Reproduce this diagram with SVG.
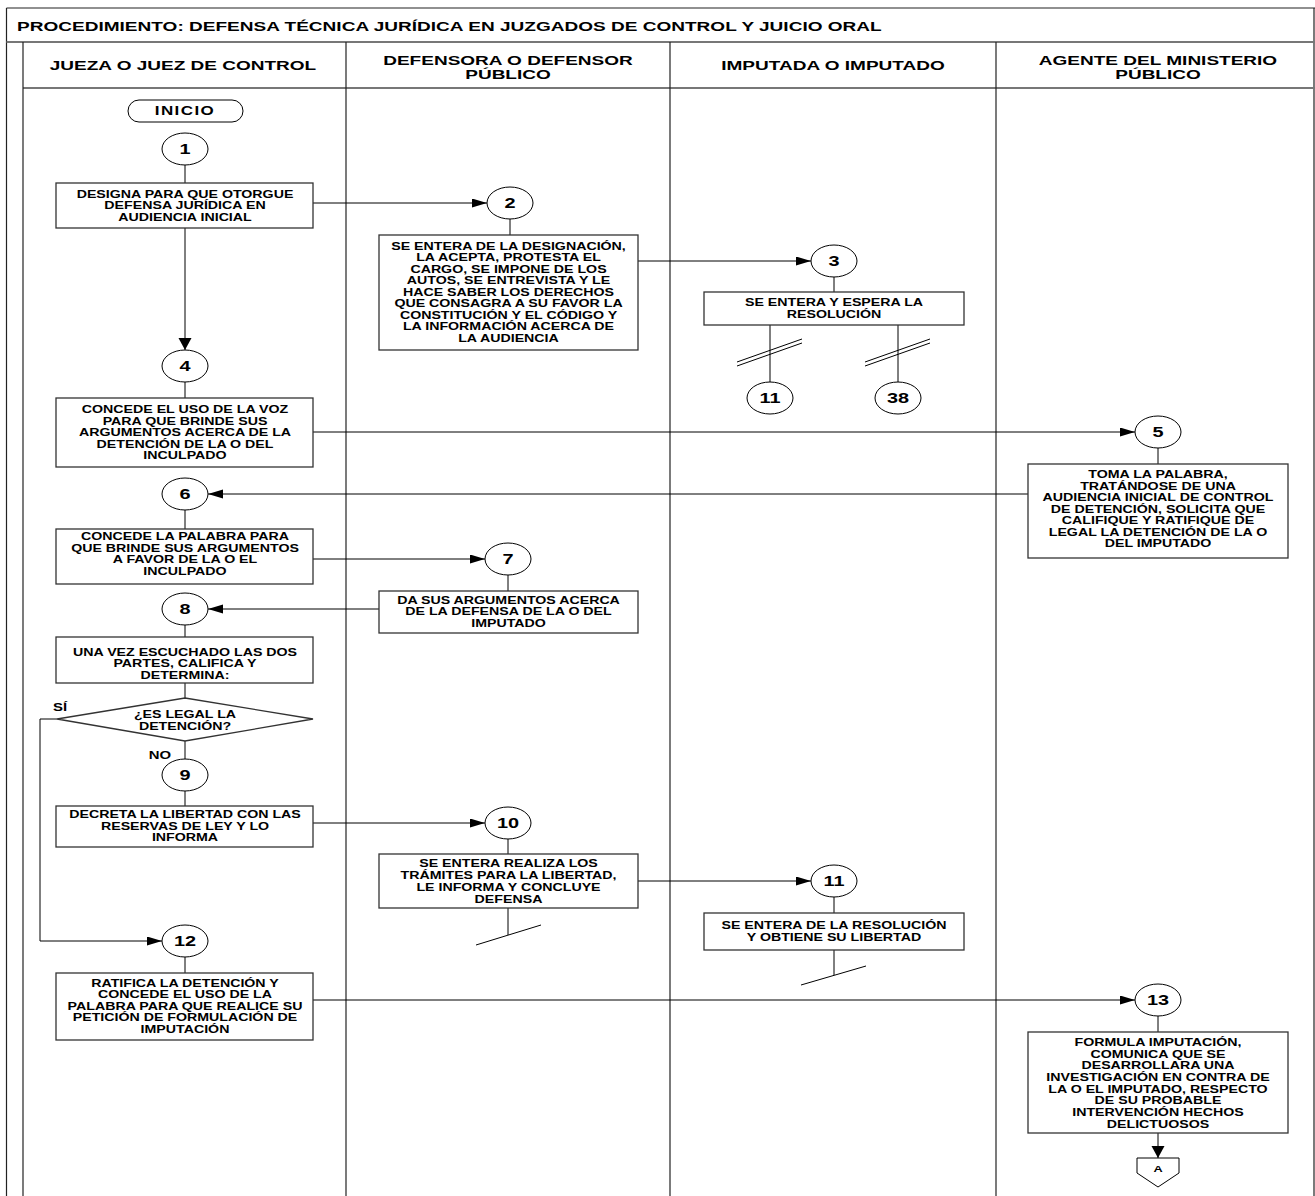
<svg xmlns="http://www.w3.org/2000/svg" width="1315" height="1196" viewBox="0 0 1315 1196">
<style>
.t{font-family:"Liberation Sans",Arial,sans-serif;font-weight:bold;font-size:10px;text-anchor:middle;fill:#000}
.h{font-size:13.4px}
.n{font-size:14px}
.box{fill:#fff;stroke:#333;stroke-width:1.3}
.c{fill:#fff;stroke:#000;stroke-width:1}
.ln{stroke:#000;stroke-width:1;fill:none}
.fr{stroke:#222;stroke-width:1.2;fill:none}
.hl{stroke:#777;stroke-width:2;fill:none}
</style>
<defs>
<marker id="ah" markerUnits="userSpaceOnUse" markerWidth="16" markerHeight="10" refX="15" refY="4.5" orient="auto"><path d="M0,0 L15,4.5 L0,9 z" fill="#000"/></marker>
<marker id="av" markerUnits="userSpaceOnUse" markerWidth="13" markerHeight="14" refX="12" refY="6.5" orient="auto"><path d="M0,0 L12,6.5 L0,13 z" fill="#000"/></marker>
</defs>
<rect width="1315" height="1196" fill="#fff"/>
<g id="frame">
<line class="fr" x1="6.5" y1="8" x2="1315" y2="8"/>
<line class="fr" x1="6.5" y1="8" x2="6.5" y2="1196"/>
<line class="fr" x1="1314" y1="8" x2="1314" y2="1196"/>
<line class="hl" x1="6.5" y1="42" x2="1315" y2="42"/>
<line class="hl" x1="23" y1="88" x2="1315" y2="88"/>
<line class="fr" x1="23" y1="42" x2="23" y2="1196"/>
<line class="fr" x1="346" y1="42" x2="346" y2="1196"/>
<line class="fr" x1="670" y1="42" x2="670" y2="1196"/>
<line class="fr" x1="996" y1="42" x2="996" y2="1196"/>
<g transform="translate(17 0) scale(1.41 1)"><text class="t" style="font-size:13.5px;text-anchor:start" x="0" y="31">PROCEDIMIENTO: DEFENSA TÉCNICA JURÍDICA EN JUZGADOS DE CONTROL Y JUICIO ORAL</text></g>
<g transform="translate(183 0) scale(1.42 1)"><text class="t h" x="0" y="70">JUEZA O JUEZ DE CONTROL</text></g>
<g transform="translate(508 0) scale(1.42 1)"><text class="t h" x="0" y="65">DEFENSORA O DEFENSOR</text><text class="t h" x="0" y="79.5">PÚBLICO</text></g>
<g transform="translate(833 0) scale(1.42 1)"><text class="t h" x="0" y="70">IMPUTADA O IMPUTADO</text></g>
<g transform="translate(1158 0) scale(1.42 1)"><text class="t h" x="0" y="65">AGENTE DEL MINISTERIO</text><text class="t h" x="0" y="79.5">PÚBLICO</text></g>
</g>
<g id="connectors">
<line class="ln" x1="185" y1="165" x2="185" y2="183"/>
<line class="ln" x1="313" y1="203" x2="487" y2="203" marker-end="url(#ah)"/>
<line class="ln" x1="510" y1="219" x2="510" y2="235"/>
<line class="ln" x1="185" y1="228" x2="185" y2="350" marker-end="url(#av)"/>
<line class="ln" x1="638" y1="261" x2="811" y2="261" marker-end="url(#ah)"/>
<line class="ln" x1="834" y1="277" x2="834" y2="292"/>
<line class="ln" x1="770" y1="325" x2="770" y2="382"/>
<line class="ln" x1="737" y1="366" x2="802" y2="343"/>
<line class="ln" x1="737" y1="362" x2="802" y2="339"/>
<line class="ln" x1="898" y1="325" x2="898" y2="382"/>
<line class="ln" x1="865" y1="366" x2="930" y2="343"/>
<line class="ln" x1="865" y1="362" x2="930" y2="339"/>
<line class="ln" x1="185" y1="382" x2="185" y2="398"/>
<line class="ln" x1="313" y1="432" x2="1135" y2="432" marker-end="url(#ah)"/>
<line class="ln" x1="1158" y1="448" x2="1158" y2="464"/>
<line class="ln" x1="1028" y1="494" x2="208" y2="494" marker-end="url(#ah)"/>
<line class="ln" x1="185" y1="510" x2="185" y2="529"/>
<line class="ln" x1="313" y1="559" x2="485" y2="559" marker-end="url(#ah)"/>
<line class="ln" x1="508" y1="575" x2="508" y2="591"/>
<line class="ln" x1="379" y1="609" x2="208" y2="609" marker-end="url(#ah)"/>
<line class="ln" x1="185" y1="625" x2="185" y2="637"/>
<line class="ln" x1="185" y1="683" x2="185" y2="698"/>
<line class="ln" x1="185" y1="741" x2="185" y2="759"/>
<polyline class="ln" points="57,719 40,719 40,941 162,941" marker-end="url(#ah)"/>
<line class="ln" x1="185" y1="791" x2="185" y2="806"/>
<line class="ln" x1="313" y1="823" x2="485" y2="823" marker-end="url(#ah)"/>
<line class="ln" x1="508" y1="839" x2="508" y2="854"/>
<line class="ln" x1="508" y1="908" x2="508" y2="935"/>
<line class="ln" x1="476" y1="945" x2="541" y2="925"/>
<line class="ln" x1="638" y1="881" x2="811" y2="881" marker-end="url(#ah)"/>
<line class="ln" x1="834" y1="897" x2="834" y2="913"/>
<line class="ln" x1="834" y1="950" x2="834" y2="975"/>
<line class="ln" x1="801" y1="985" x2="866" y2="966"/>
<line class="ln" x1="185" y1="957" x2="185" y2="973"/>
<line class="ln" x1="313" y1="1000" x2="1135" y2="1000" marker-end="url(#ah)"/>
<line class="ln" x1="1158" y1="1016" x2="1158" y2="1032"/>
<line class="ln" x1="1158" y1="1133" x2="1158" y2="1158" marker-end="url(#av)"/>
</g>
<g id="inicio"><rect class="c" x="128" y="100" width="115" height="22" rx="11"/><g transform="translate(185 0) scale(1.42 1)"><text class="t" style="font-size:12px;letter-spacing:1px" x="0" y="115.5">INICIO</text></g></g>
<g id="n1"><ellipse class="c" cx="185" cy="149" rx="23" ry="16"/><g transform="translate(185 0) scale(1.42 1)"><text class="t n" x="0" y="154">1</text></g></g>
<g id="a1"><rect class="box" x="56" y="183" width="257" height="45"/><g transform="translate(185 0) scale(1.42 1)"><text class="t" y="198"><tspan x="0">DESIGNA PARA QUE OTORGUE</tspan><tspan x="0" y="209.5">DEFENSA JURÍDICA EN</tspan><tspan x="0" y="221">AUDIENCIA INICIAL</tspan></text></g></g>
<g id="n2"><ellipse class="c" cx="510" cy="203" rx="23" ry="16"/><g transform="translate(510 0) scale(1.42 1)"><text class="t n" x="0" y="208">2</text></g></g>
<g id="a2"><rect class="box" x="379" y="235" width="259" height="115"/><g transform="translate(508.5 0) scale(1.42 1)"><text class="t"><tspan x="0" y="250">SE ENTERA DE LA DESIGNACIÓN,</tspan><tspan x="0" y="261.5">LA ACEPTA, PROTESTA EL</tspan><tspan x="0" y="273">CARGO, SE IMPONE DE LOS</tspan><tspan x="0" y="284.5">AUTOS, SE ENTREVISTA Y LE</tspan><tspan x="0" y="296">HACE SABER LOS DERECHOS</tspan><tspan x="0" y="307.5">QUE CONSAGRA A SU FAVOR LA</tspan><tspan x="0" y="319">CONSTITUCIÓN Y EL CÓDIGO Y</tspan><tspan x="0" y="330.5">LA INFORMACIÓN ACERCA DE</tspan><tspan x="0" y="342">LA AUDIENCIA</tspan></text></g></g>
<g id="n3"><ellipse class="c" cx="834" cy="261" rx="23" ry="16"/><g transform="translate(834 0) scale(1.42 1)"><text class="t n" x="0" y="266">3</text></g></g>
<g id="a3"><rect class="box" x="704" y="292" width="260" height="33"/><g transform="translate(834 0) scale(1.42 1)"><text class="t"><tspan x="0" y="306.5">SE ENTERA Y ESPERA LA</tspan><tspan x="0" y="318">RESOLUCIÓN</tspan></text></g></g>
<g id="ref11"><ellipse class="c" cx="770" cy="398" rx="23" ry="16"/><g transform="translate(770 0) scale(1.42 1)"><text class="t n" x="0" y="403">11</text></g></g>
<g id="ref38"><ellipse class="c" cx="898" cy="398" rx="23" ry="16"/><g transform="translate(898 0) scale(1.42 1)"><text class="t n" x="0" y="403">38</text></g></g>
<g id="n4"><ellipse class="c" cx="185" cy="366" rx="23" ry="16"/><g transform="translate(185 0) scale(1.42 1)"><text class="t n" x="0" y="371">4</text></g></g>
<g id="a4"><rect class="box" x="56" y="398" width="257" height="69"/><g transform="translate(185 0) scale(1.42 1)"><text class="t"><tspan x="0" y="413.5">CONCEDE EL USO DE LA VOZ</tspan><tspan x="0" y="425">PARA QUE BRINDE SUS</tspan><tspan x="0" y="436.5">ARGUMENTOS ACERCA DE LA</tspan><tspan x="0" y="448">DETENCIÓN DE LA O DEL</tspan><tspan x="0" y="459.5">INCULPADO</tspan></text></g></g>
<g id="n5"><ellipse class="c" cx="1158" cy="432" rx="23" ry="16"/><g transform="translate(1158 0) scale(1.42 1)"><text class="t n" x="0" y="437">5</text></g></g>
<g id="a5"><rect class="box" x="1028" y="464" width="260" height="94"/><g transform="translate(1158 0) scale(1.42 1)"><text class="t"><tspan x="0" y="478.5">TOMA LA PALABRA,</tspan><tspan x="0" y="490">TRATÁNDOSE DE UNA</tspan><tspan x="0" y="501.5">AUDIENCIA INICIAL DE CONTROL</tspan><tspan x="0" y="513">DE DETENCIÓN,  SOLICITA QUE</tspan><tspan x="0" y="524.5">CALIFIQUE Y RATIFIQUE DE</tspan><tspan x="0" y="536">LEGAL LA DETENCIÓN DE LA O</tspan><tspan x="0" y="547.5">DEL IMPUTADO</tspan></text></g></g>
<g id="n6"><ellipse class="c" cx="185" cy="494" rx="23" ry="16"/><g transform="translate(185 0) scale(1.42 1)"><text class="t n" x="0" y="499">6</text></g></g>
<g id="a6"><rect class="box" x="56" y="529" width="257" height="55"/><g transform="translate(185 0) scale(1.42 1)"><text class="t"><tspan x="0" y="540.5">CONCEDE LA PALABRA PARA</tspan><tspan x="0" y="552">QUE BRINDE SUS ARGUMENTOS</tspan><tspan x="0" y="563.5">A FAVOR DE LA O EL</tspan><tspan x="0" y="575">INCULPADO</tspan></text></g></g>
<g id="n7"><ellipse class="c" cx="508" cy="559" rx="23" ry="16"/><g transform="translate(508 0) scale(1.42 1)"><text class="t n" x="0" y="564">7</text></g></g>
<g id="a7"><rect class="box" x="379" y="591" width="259" height="42"/><g transform="translate(508.5 0) scale(1.42 1)"><text class="t"><tspan x="0" y="604">DA SUS ARGUMENTOS  ACERCA</tspan><tspan x="0" y="615.5">DE LA DEFENSA DE LA O DEL</tspan><tspan x="0" y="627">IMPUTADO</tspan></text></g></g>
<g id="n8"><ellipse class="c" cx="185" cy="609" rx="23" ry="16"/><g transform="translate(185 0) scale(1.42 1)"><text class="t n" x="0" y="614">8</text></g></g>
<g id="a8"><rect class="box" x="56" y="637" width="257" height="46"/><g transform="translate(185 0) scale(1.42 1)"><text class="t"><tspan x="0" y="656">UNA VEZ ESCUCHADO LAS DOS</tspan><tspan x="0" y="667.5">PARTES, CALIFICA Y</tspan><tspan x="0" y="679">DETERMINA:</tspan></text></g></g>
<g id="d1"><polygon class="box" points="185,698 313,719 185,741 57,719"/><g transform="translate(185 0) scale(1.42 1)"><text class="t"><tspan x="0" y="718.5">¿ES LEGAL LA</tspan><tspan x="0" y="730">DETENCIÓN?</tspan></text></g>
<g transform="translate(60 0) scale(1.42 1)"><text class="t" style="font-size:10.5px" x="0" y="711">SÍ</text></g>
<g transform="translate(160 0) scale(1.42 1)"><text class="t" style="font-size:10.5px" x="0" y="759">NO</text></g></g>
<g id="n9"><ellipse class="c" cx="185" cy="775" rx="23" ry="16"/><g transform="translate(185 0) scale(1.42 1)"><text class="t n" x="0" y="780">9</text></g></g>
<g id="a9"><rect class="box" x="56" y="806" width="257" height="41"/><g transform="translate(185 0) scale(1.42 1)"><text class="t"><tspan x="0" y="818.5">DECRETA LA LIBERTAD CON LAS</tspan><tspan x="0" y="830">RESERVAS DE LEY Y LO</tspan><tspan x="0" y="841.5">INFORMA</tspan></text></g></g>
<g id="n10"><ellipse class="c" cx="508" cy="823" rx="23" ry="16"/><g transform="translate(508 0) scale(1.42 1)"><text class="t n" x="0" y="828">10</text></g></g>
<g id="a10"><rect class="box" x="379" y="854" width="259" height="54"/><g transform="translate(508.5 0) scale(1.42 1)"><text class="t"><tspan x="0" y="867.5">SE ENTERA REALIZA LOS</tspan><tspan x="0" y="879.3">TRÁMITES PARA LA LIBERTAD,</tspan><tspan x="0" y="891.1">LE INFORMA Y CONCLUYE</tspan><tspan x="0" y="903">DEFENSA</tspan></text></g></g>
<g id="n11"><ellipse class="c" cx="834" cy="881" rx="23" ry="16"/><g transform="translate(834 0) scale(1.42 1)"><text class="t n" x="0" y="886">11</text></g></g>
<g id="a11"><rect class="box" x="704" y="913" width="260" height="37"/><g transform="translate(834 0) scale(1.42 1)"><text class="t"><tspan x="0" y="929.5">SE ENTERA DE LA RESOLUCIÓN</tspan><tspan x="0" y="941">Y OBTIENE SU LIBERTAD</tspan></text></g></g>
<g id="n12"><ellipse class="c" cx="185" cy="941" rx="23" ry="16"/><g transform="translate(185 0) scale(1.42 1)"><text class="t n" x="0" y="946">12</text></g></g>
<g id="a12"><rect class="box" x="56" y="973" width="257" height="67"/><g transform="translate(185 0) scale(1.42 1)"><text class="t"><tspan x="0" y="987">RATIFICA LA DETENCIÓN Y</tspan><tspan x="0" y="998.5">CONCEDE EL USO DE LA</tspan><tspan x="0" y="1010">PALABRA PARA QUE REALICE SU</tspan><tspan x="0" y="1021.5">PETICIÓN DE FORMULACIÓN DE</tspan><tspan x="0" y="1033">IMPUTACIÓN</tspan></text></g></g>
<g id="n13"><ellipse class="c" cx="1158" cy="1000" rx="23" ry="16"/><g transform="translate(1158 0) scale(1.42 1)"><text class="t n" x="0" y="1005">13</text></g></g>
<g id="a13"><rect class="box" x="1028" y="1032" width="260" height="101"/><g transform="translate(1158 0) scale(1.42 1)"><text class="t"><tspan x="0" y="1046">FORMULA IMPUTACIÓN,</tspan><tspan x="0" y="1057.7">COMUNICA QUE SE</tspan><tspan x="0" y="1069.3">DESARROLLARA UNA</tspan><tspan x="0" y="1081">INVESTIGACIÓN EN CONTRA DE</tspan><tspan x="0" y="1092.7">LA O EL IMPUTADO, RESPECTO</tspan><tspan x="0" y="1104.3">DE SU PROBABLE</tspan><tspan x="0" y="1116">INTERVENCIÓN HECHOS</tspan><tspan x="0" y="1127.7">DELICTUOSOS</tspan></text></g></g>
<g id="offpageA"><polygon class="c" points="1137,1158 1179,1158 1179,1173 1158,1187 1137,1173"/><g transform="translate(1158 0) scale(1.42 1)"><text class="t" style="font-size:9px" x="0" y="1172">A</text></g></g>
</svg>
